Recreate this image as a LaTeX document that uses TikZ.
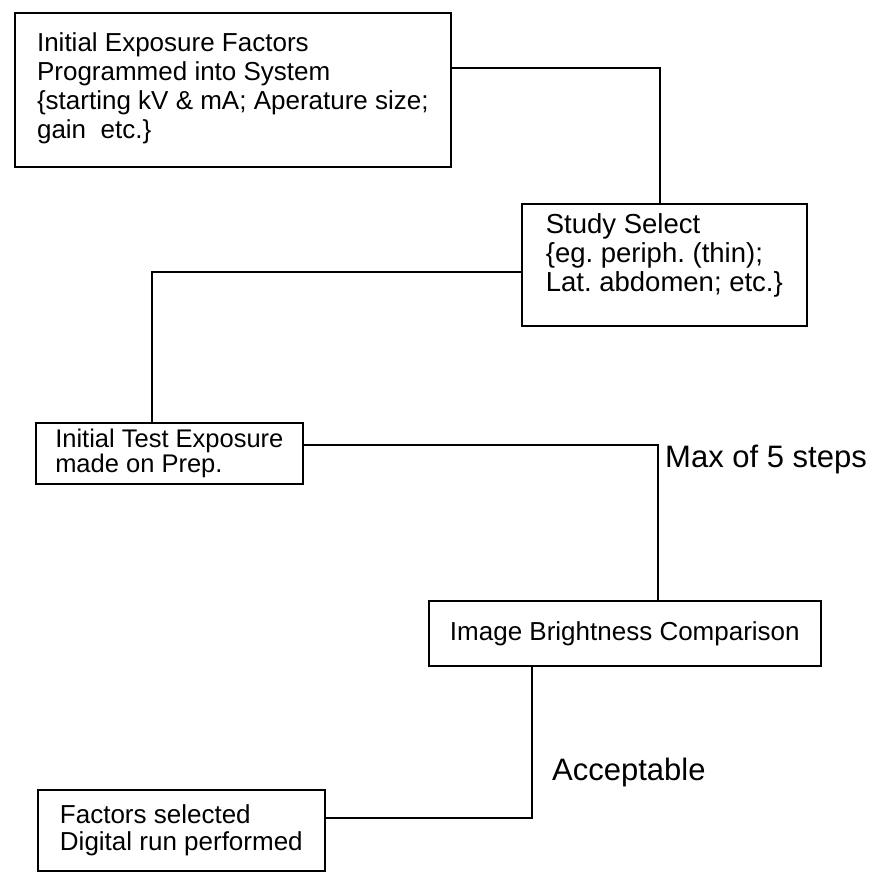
\documentclass[tikz,border=0pt]{standalone}
\usepackage{fontspec}
\setmainfont{Liberation Sans}
\frenchspacing
\begin{document}
\begin{tikzpicture}[x=1pt,y=-1pt,
  boxst/.style={draw,line width=1.7pt,rectangle,anchor=north west,align=left,inner ysep=0pt,inner xsep=0pt},
  wire/.style={line width=1.7pt},
  lbl/.style={anchor=base west,inner sep=0pt,font=\fontsize{31}{33}\selectfont}]
\useasboundingbox (0,0) rectangle (880,873);
\node[boxst,minimum width=436,minimum height=154,font=\fontsize{26}{29}\selectfont] (b1) at (14,12)
  {Initial Exposure Factors\\Programmed into System\\\{starting kV \& mA; Aperature size;\\gain\ \ etc.\}\rule[-8pt]{0pt}{8pt}};
\node[boxst,minimum width=285,minimum height=122,font=\fontsize{27.5}{29}\selectfont] (b2) at (521,203)
  {Study Select\\\{eg. periph. (thin);\\Lat. abdomen; etc.\}\rule[-24pt]{0pt}{24pt}};
\node[boxst,minimum width=267,minimum height=61,font=\fontsize{25.5}{23}\selectfont] (b3) at (35,422)
  {Initial Test Exposure\\made on Prep.};
\node[boxst,minimum width=392,minimum height=65,font=\fontsize{26}{28}\selectfont] (b4) at (428,600)
  {Image Brightness Comparison};
\node[boxst,minimum width=287,minimum height=81,font=\fontsize{26}{27}\selectfont] (b5) at (37,789)
  {Factors selected\\Digital run performed};
\node[lbl] (l1) at (665,467) {Max of 5 steps};
\node[lbl] (l2) at (552,780) {Acceptable};
\draw[wire] (b1.east |- 0,68) -| (b2.north -| 660,0);
\draw[wire] (b2.west |- 0,272) -| (b3.north -| 152,0);
\draw[wire] (b3.east |- 0,445) -| (b4.north -| 658,0);
\draw[wire] (b4.south -| 532,0) |- (b5.east |- 0,818);
\end{tikzpicture}
\end{document}
